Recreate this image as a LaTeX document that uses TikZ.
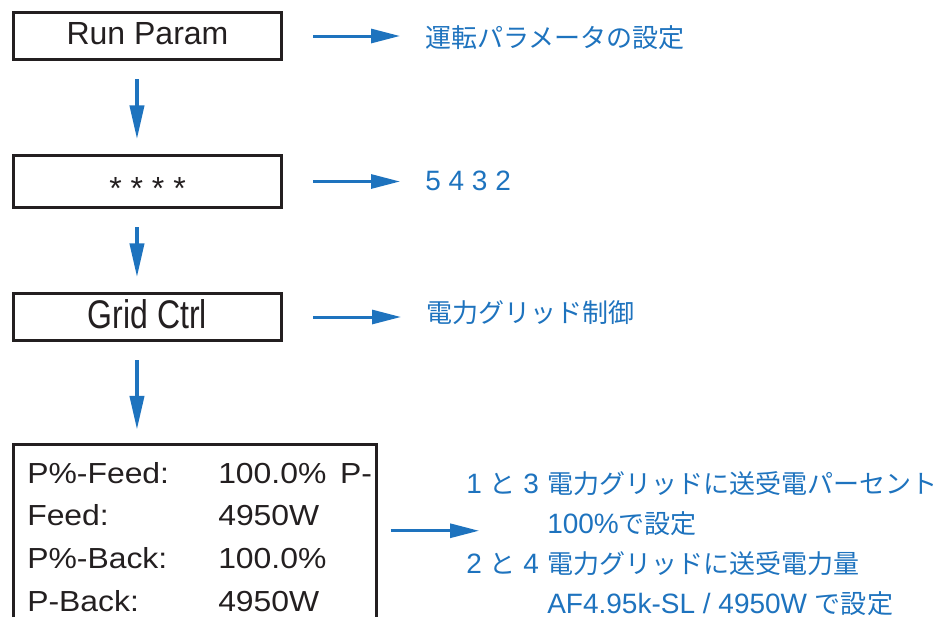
\documentclass[tikz,border=0pt]{standalone}
\usepackage{fontspec}
\usepackage{tikz}
\usetikzlibrary{arrows.meta}
\setmainfont{Liberation Sans}
\newfontfamily\jp[Scale=0.93]{Noto Sans CJK JP}
\newfontfamily\widesans[FakeStretch=1.1]{Liberation Sans}
\newfontfamily\narrowsans[FakeStretch=0.8]{Liberation Sans}
\definecolor{menublue}{RGB}{30,115,190}
\definecolor{menuink}{RGB}{35,31,32}

\tikzset{
    menubox/.style={draw=menuink, line width=2.25pt, minimum width=201pt, inner sep=0pt,
        text=menuink, font=\fontsize{24pt}{28pt}\selectfont, text height=17.25pt, text depth=3.8pt},
    rarr/.style={menublue, line width=2.25pt, -{Triangle[length=21.75pt,width=10.5pt]},
        shorten <=22.5pt, shorten >=18.75pt},
    darr/.style={menublue, line width=3pt, -{Triangle[length=25.5pt,width=10.5pt]},
        shorten <=13.5pt, shorten >=11pt},
    notetext/.style={text=menublue, font=\fontsize{21pt}{30pt}\selectfont, inner sep=0pt, anchor=west},
}

\begin{document}
\begin{tikzpicture}[x=0.75pt,y=-0.75pt]
    \useasboundingbox (0,0) rectangle (936,619);

    \node[menubox, minimum height=35.25pt] (run) at (147.5,36) {Run Param};
    \node[menubox, minimum height=39pt] (pw) at (147.5,181.5) {\raisebox{-7pt}{* * * *}};
    \node[menubox, minimum height=35.25pt, text height=21.6pt, text depth=4.8pt,
        font=\narrowsans\fontsize{30pt}{34pt}\selectfont] (grid) at (147.5,317) {Grid Ctrl};
    \node[minimum width=272.25pt, minimum height=129.4pt, inner sep=0pt, outer sep=0pt] (feed) at (195,530.75) {};
    \draw[menuink, line width=2.25pt] (feed.south west) |- (feed.north east) -- (feed.south east);

    \node[anchor=north west, inner sep=0pt, text=menuink, font=\widesans\fontsize{21.75pt}{32pt}\selectfont] (feedtxt) at (27,453) {%
        \begin{tabular}{@{}p{143.25pt}@{}p{91.5pt}@{}l@{}}
            P\%-Feed: & 100.0\% & P-\\
            Feed:     & 4950W   & \\
            P\%-Back: & 100.0\% & \\
            P-Back:   & 4950W   &
        \end{tabular}};

    \node[notetext] (runlbl) at (425,38) {\jp 運転パラメータの設定};
    \node[notetext] (pwlbl) at (425,181) {5 4 3 2};
    \node[notetext] (gridlbl) at (426,313) {\jp 電力グリッド制御};
    \node[notetext, anchor=north west] (notes) at (466,465) {%
        \begin{tabular}{@{}p{60.75pt}@{}l@{}}
            1 {\jp と} 3 & {\jp 電力グリッドに送受電パーセント}\\
                         & 100\%{\jp で設定}\\
            2 {\jp と} 4 & {\jp 電力グリッドに送受電力量}\\
                         & AF4.95k-SL / 4950W {\jp で設定}
        \end{tabular}};
    \coordinate (feedtip) at (479,530.75);

    \draw[rarr] (run.east) -- (run.east -| runlbl.west);
    \draw[rarr] (pw.east) -- (pw.east -| pwlbl.west);
    \draw[rarr] (grid.east) -- (grid.east -| gridlbl.west);
    \draw[rarr, shorten <=10.5pt, shorten >=0pt] (feed) -- (feedtip);

    \draw[darr] ([xshift=-7.9pt]run.south) -- ([xshift=-7.9pt]pw.north);
    \draw[darr] ([xshift=-7.9pt]pw.south) -- ([xshift=-7.9pt]grid.north);
    \draw[darr] ([xshift=-7.9pt]grid.south) -- ([xshift=-7.9pt]grid.south |- feed.north);
\end{tikzpicture}
\end{document}
